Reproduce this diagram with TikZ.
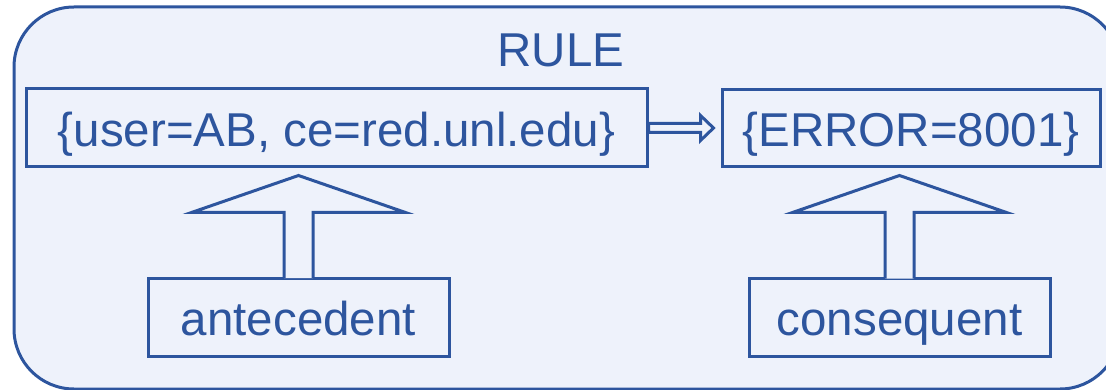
\documentclass[tikz,border=0pt]{standalone}
\usepackage{fontspec}
\setmainfont{Liberation Sans}
\usetikzlibrary{calc}
\definecolor{ink}{RGB}{45,85,158}
\definecolor{paper}{RGB}{238,242,251}
\tikzset{
  big/.style={font=\fontsize{47.5}{57}\selectfont, text=ink},
  itembox/.style={big, draw=ink, line width=3pt, fill=paper, inner sep=0pt,
    anchor=center},
  hollow/.style={draw=ink, line width=3pt, fill=paper, line join=miter}
}
\begin{document}
\begin{tikzpicture}[x=1pt,y=-1pt]
\useasboundingbox (0,0) rectangle (1106,390);
\clip (0,0) rectangle (1106,390);
% outer rule frame
\draw[draw=ink, line width=3pt, fill=paper, rounded corners=60pt]
  (14,7) rectangle (1120,389);
\node[big, anchor=base] (title) at (561,67) {RULE};
% antecedent / consequent item sets
\node[itembox, minimum width=621pt, text height=58pt, text depth=20pt]
  (ante) at (336.5,128) {\{user=AB, ce=red.unl.edu\}};
\node[itembox, minimum width=378pt, text height=57pt, text depth=20pt]
  (cons) at (911,128.5) {\{ERROR=8001\}};
% labels
\node[itembox, minimum width=301pt, text height=57pt, text depth=21pt]
  (antelab) at (298.5,317) {antecedent};
\node[itembox, minimum width=301pt, text height=57pt, text depth=21pt]
  (conslab) at (899.5,317.5) {consequent};
% implication arrow between the two item sets
\draw[hollow] let \p1=(ante.east), \p2=(cons.west) in
  (\x1,\y1-4.5pt) -- (\x2-20pt,\y1-4.5pt) -- (\x2-20pt,\y1-12.5pt)
  -- (\x2-7pt,\y1) -- (\x2-20pt,\y1+12.5pt) -- (\x2-20pt,\y1+4.5pt)
  -- (\x1,\y1+4.5pt) -- cycle;
% pointer arrows from the labels up to the item sets
\foreach \lab/\tgt in {antelab/ante, conslab/cons}{
  \draw[hollow] let \p1=(\lab.north), \p2=(\tgt.south) in
    (\x1-14.5pt,\y1-1.5pt) -- (\x1-14.5pt,\y2-44pt) -- (\x1-107pt,\y2-44pt)
    -- (\x1,\y2-7pt) -- (\x1+107pt,\y2-44pt) -- (\x1+14.5pt,\y2-44pt)
    -- (\x1+14.5pt,\y1-1.5pt);
}
\end{tikzpicture}
\end{document}
